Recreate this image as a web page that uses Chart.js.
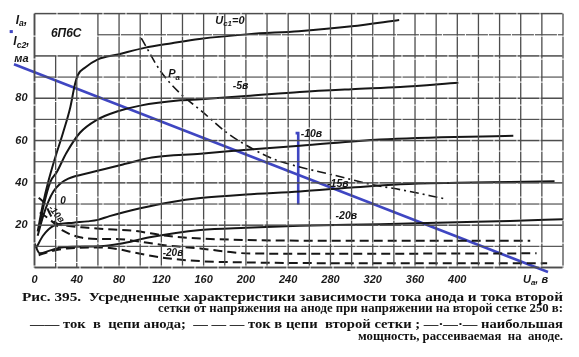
<!DOCTYPE html>
<html><head><meta charset="utf-8">
<script src="https://cdn.jsdelivr.net/npm/chart.js@4.4.1/dist/chart.umd.min.js"></script>
<style>html,body{margin:0;padding:0;background:#fff;overflow:hidden}canvas{display:block}</style>
</head><body>
<canvas id="c" width="579" height="357" style="width:579px;height:357px"></canvas>
<script>
// ---- tick labels ----
const xTickLabels = [0,40,80,120,160,200,240,280,320,360,400];
const yTickLabels = [20,40,60,80];

// ---- anode current Ia, mA (solid), by control-grid voltage ----
const ia_0   = [[3,17],[8,30],[13,40.5],[19,51],[27,63.7],[34,76],[38,86],[41,91],[48,94.5],[60,98.4],[79,100.7],[104,103.8],[130,106],[156,108],[203,110.3],[250,111.7],[300,114],[345,117]];
const ia_m5  = [[4,18],[9,30],[15,40.5],[21,45],[30,54],[43,63.7],[59,69.8],[78,73.7],[100,76.5],[138,79],[157,79.5],[200,81],[251,83],[300,84.3],[346,85.3],[401,87.3]];
const ia_m10 = [[3,15],[8,24],[13,31],[18,36],[24,39.5],[32,42],[54,45],[86,49],[111,52],[157,53.8],[210,56],[251,57.5],[327,60.5],[453,62.3]];
const ia_m15 = [[2,9.6],[8,15],[18,19.7],[37,21.2],[50,21.8],[60,22.5],[71,24.3],[100,28],[130,31],[157,32.8],[200,34.5],[251,35.9],[300,37.8],[346,39.3],[400,40],[450,40.4],[492,40.8]];
const ia_m20 = [[0,11.3],[5,6.7],[15,8.1],[27,9.6],[62,10],[81,11.2],[109,14.3],[157,17.7],[200,18.8],[251,19.7],[327,20.5],[400,21.4],[450,22],[500,22.8]];

// ---- second-grid current Ic2, mA (dashed) ----
const ig2_0   = [[4,33],[10,30],[15,25],[19,21.5],[31,19.7],[50,18.8],[62,18.3],[93,17.4],[125,15],[157,13.7],[200,13],[251,12.7],[350,12.7],[469,12.7]];
const ig2_m10 = [[5,26],[11,24],[18,21.2],[27,17.4],[43,14.3],[59,13.5],[81,13.4],[93,12.7],[125,10.4],[157,9],[180,7.6],[204,6.6],[300,6.5],[400,6.6],[475,6.7]];
const ig2_m20 = [[4,5.8],[15,7.6],[31,9],[62,9.5],[80,8.6],[93,7.2],[125,4.4],[157,3],[200,2.4],[251,2.1],[350,2],[485,2]];

// ---- max anode dissipation Pa (dash-dot) ----
const pa_max = [[101,108.4],[119,93],[138,82.2],[157,74.4],[182,63.7],[207,55.9],[226,51.3],[251,47.5],[282,43.8],[320,39.1],[346,36.8],[388,32.5]];

// ---- blue hand-drawn overlays ----
const blueLine   = [[-19.4,96.1],[485.8,-2.1]];
const blueMarker = [[247,63.5],[249.5,63.5],[249.5,29.8]];
const blueDash   = [[-20.5,111.5],[-23.5,111.5]];

const INK = '#161616';
const BLUE = '#3f46c2';
const GRIDC = '#4d4d4d';
const pts = a => a.map(([x,y]) => ({x,y}));
function ds(arr, extra){
  return Object.assign({data:pts(arr), borderColor:INK, borderWidth:2, pointRadius:0,
    cubicInterpolationMode:'monotone', fill:false}, extra||{});
}
const blueOpts = {borderColor:BLUE, borderWidth:2.6, tension:0, cubicInterpolationMode:'default', clip:false};

const datasets = [
  ds(ia_0), ds(ia_m5), ds(ia_m10), ds(ia_m15), ds(ia_m20),
  ds(ig2_0,{borderDash:[9,5]}), ds(ig2_m10,{borderDash:[9,5]}), ds(ig2_m20,{borderDash:[9,5]}),
  ds(pa_max,{borderDash:[9,4,2,4], borderWidth:1.6}),
  ds(blueLine, blueOpts),
  ds(blueMarker, blueOpts),
  ds(blueDash, Object.assign({}, blueOpts, {borderWidth:3}))
];

const fnt = (s, w) => `italic ${w||'bold'} ${s}px "Liberation Sans", Arial, sans-serif`;
function rich(ctx, parts, x, y, size, align){
  let w = 0;
  parts.forEach(([s,sub]) => { ctx.font = fnt(sub? size*0.72 : size); w += ctx.measureText(s).width; });
  let cx = align === 'center' ? x - w/2 : (align === 'right' ? x - w : x);
  ctx.textAlign = 'left'; ctx.textBaseline = 'middle';
  parts.forEach(([s,sub]) => {
    ctx.font = fnt(sub? size*0.72 : size);
    ctx.fillText(s, cx, y + (sub ? size*0.3 : 0));
    cx += ctx.measureText(s).width;
  });
}
function fitText(ctx, s, x0, x1, yb, font){
  ctx.font = font;
  const w = ctx.measureText(s).width;
  ctx.save(); ctx.translate(x0, yb); ctx.scale((x1-x0)/w, 1);
  ctx.textAlign = 'left'; ctx.textBaseline = 'alphabetic';
  ctx.fillText(s, 0, 0); ctx.restore();
}
// broken (scanned-paper) rule: short filled pieces with hairline gaps
function ruleH(ctx, x0, x1, yy, w){
  for (let s = x0; s < x1; s += 23) ctx.fillRect(s, yy - w/2, Math.min(22, x1 - s), w);
}
function ruleV(ctx, xx, y0, y1, w){
  for (let s = y0; s < y1; s += 23) ctx.fillRect(xx - w/2, s, w, Math.min(22, y1 - s));
}

const decor = {
  id:'decor',
  afterDraw(chart){
    const {ctx, scales:{x, y}, chartArea:ca} = chart;
    ctx.save();
    ctx.globalCompositeOperation = 'source-over';
    ctx.globalAlpha = 1;
    // chart-paper grid from the scales' ticks (box corner x<60, y>100 left blank)
    ctx.fillStyle = GRIDC;
    x.ticks.forEach(t => {
      const px = x.getPixelForValue(t.value);
      const yTop = (t.value > 0 && t.value < 60) ? y.getPixelForValue(100) : ca.top;
      ruleV(ctx, px, yTop, ca.bottom, t.value === 0 ? 1.9 : 1.3);
    });
    y.ticks.forEach(t => {
      const py = y.getPixelForValue(t.value);
      const xL = (t.value > 100 && t.value < 120) ? x.getPixelForValue(60) : ca.left;
      ruleH(ctx, xL, ca.right, py, t.value === 0 ? 1.9 : (t.value % 20 === 0 ? 1.5 : 1.15));
    });

    const P = (vx, vy) => [x.getPixelForValue(vx), y.getPixelForValue(vy)];
    ctx.fillStyle = INK;
    let p;
    p = P(30,110.5);  rich(ctx, [['6П6С']], p[0], p[1], 12, 'center');
    p = P(171,116.5); rich(ctx, [['U'],['c1',true],['=0']], p[0], p[1], 11, 'left');
    p = P(195,85.9);  rich(ctx, [['-5в']], p[0], p[1], 10.5, 'center');
    p = P(262,63.2);  rich(ctx, [['-10в']], p[0], p[1], 10.5, 'center');
    p = P(287,39.6);  rich(ctx, [['-15в']], p[0], p[1], 10.5, 'center');
    p = P(295,24.3);  rich(ctx, [['-20в']], p[0], p[1], 10.5, 'center');
    p = P(132,91.4);  rich(ctx, [['P'],['a',true]], p[0], p[1], 11, 'center');
    p = P(27,31.5);   rich(ctx, [['0']], p[0], p[1], 10, 'center');
    p = P(131,6.9);   rich(ctx, [['-20в']], p[0], p[1], 10, 'center');
    p = P(20.5,25.2);
    ctx.save(); ctx.translate(p[0], p[1]); ctx.rotate(50*Math.PI/180);
    rich(ctx, [['-10в']], 0, 0, 9.5, 'center'); ctx.restore();

    const lx = ca.left - 13;
    rich(ctx, [['I'],['a',true],[',']], lx, y.getPixelForValue(116.8), 12, 'center');
    rich(ctx, [['I'],['c2',true],[',']], lx, y.getPixelForValue(106.8), 12, 'center');
    rich(ctx, [['ма']], lx, y.getPixelForValue(98.4), 11, 'center');
    rich(ctx, [['U'],['a',true],[', в']], x.getPixelForValue(474), ca.bottom + 12, 11, 'center');
    ctx.fillStyle = '#111';
    const F = 'bold 12px "Liberation Serif", "DejaVu Serif", serif';
    fitText(ctx, 'Рис. 395.  Усредненные характеристики зависимости тока анода и тока второй', 22, 563, 301, F);
    fitText(ctx, 'сетки от напряжения на аноде при напряжении на второй сетке 250 в:', 158, 563, 312, F);
    fitText(ctx, '—— ток  в  цепи анода;  — — — ток в цепи  второй сетки ; —·—·— наибольшая', 30, 563, 328, F);
    fitText(ctx, 'мощность, рассеиваемая  на  аноде.', 358, 563, 340, F);
    ctx.restore();
  }
};

const tickFont = {family:'"Liberation Sans", Arial, sans-serif', size:11, style:'italic', weight:'bold'};

new Chart(document.getElementById('c'), {
  type:'line',
  data:{datasets},
  plugins:[decor],
  options:{
    responsive:false, animation:false, events:[],
    layout:{padding:{top:6, right:16, left:0, bottom:0}},
    plugins:{legend:{display:false}, tooltip:{enabled:false}},
    scales:{
      x:{type:'linear', min:0, max:500,
        afterFit(s){ s.height = 89.5; },
        grid:{display:false, drawTicks:false},
        border:{display:false},
        ticks:{stepSize:20, autoSkip:false, maxRotation:0, padding:6, color:'#1a1a1a', font:tickFont,
          callback:v => xTickLabels.includes(v) ? String(v) : ''}},
      y:{type:'linear', min:0, max:120,
        afterFit(s){ s.width = 34.5; },
        grid:{display:false, drawTicks:false},
        border:{display:false},
        ticks:{stepSize:10, autoSkip:false, padding:7, color:'#1a1a1a', font:tickFont,
          callback:v => yTickLabels.includes(v) ? String(v) : ''}}
    }
  }
});
</script>
</body></html>
